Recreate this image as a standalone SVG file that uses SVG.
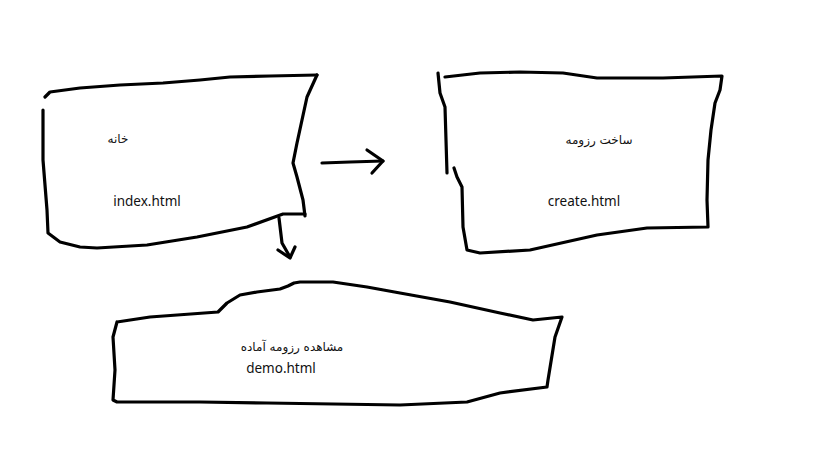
<svg xmlns="http://www.w3.org/2000/svg" width="819" height="460" viewBox="0 0 819 460">
<style>
.s{fill:none;stroke:#000;stroke-width:3.2;stroke-linecap:round;stroke-linejoin:round}
.en{font-family:"Noto Sans","Open Sans",sans-serif;font-size:13.5px;fill:#111;text-anchor:middle}
.fa{font-family:"DejaVu Sans","Noto Sans",sans-serif;font-size:12px;fill:#111;text-anchor:middle;direction:rtl}
</style>
<rect width="819" height="460" fill="#fff"/>
<g id="home">
<polyline class="s" points="45,97 50,92 80,88 120,85 163,83 200,80 230,77 270,76 317,75"/>
<polyline class="s" points="317,75 307,97 302,120 297,143 293,163 297,177 303,200 305,216"/>
<polyline class="s" points="305,214 283,214 247,227 197,237 147,245 97,248 80,247 60,242 48,233 47,210 43,160 43,110"/>
<text class="fa" x="118" y="143">خانه</text>
<text class="en" x="147" y="206">index.html</text>
</g>
<g id="create">
<polyline class="s" points="438,73 440,93 445,107 446,140 447,173"/>
<polyline class="s" points="445,77 480,73 520,72 563,73 597,78 630,78 663,78 722,76 720,90 715,103 711,130 708,160 707,200 708,227 647,228 597,235 530,250 480,253 467,250 463,227 462,187 457,177 454,168"/>
<text class="fa" x="599" y="144">ساخت رزومه</text>
<text class="en" x="584" y="206">create.html</text>
</g>
<g id="demo">
<polyline class="s" points="117,322 150,317 218,312 227,303 240,295 257,292 280,289 288,286 294,283 300,282 333,282 367,287 400,293 450,302 500,313 533,320 562,317 555,337 548,380 547,387 500,393 467,402 400,405 267,403 200,402 117,402 113,400 115,370 113,337 117,322"/>
<text class="fa" x="292" y="351">مشاهده رزومه آماده</text>
<text class="en" x="281" y="373">demo.html</text>
</g>
<g id="connectors">
<polyline class="s" points="322,163 350,162 383,161"/>
<polyline class="s" points="367,150 383,161 372,173"/>
<polyline class="s" points="279,218 282,243 290,257"/>
<polyline class="s" points="278,250 290,258 295,247"/>
</g>
</svg>
